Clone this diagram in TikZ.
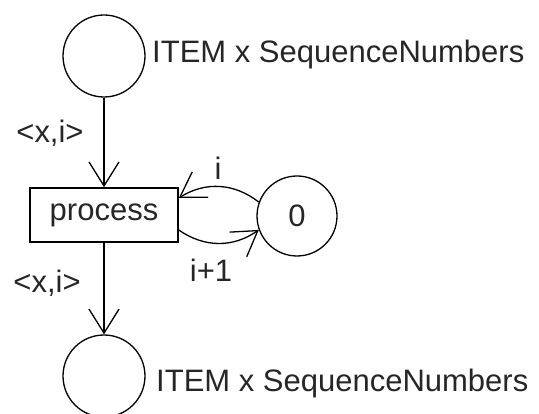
\documentclass[tikz,border=0pt]{standalone}
\usepackage{fontspec}
\setmainfont{Liberation Sans}
\usetikzlibrary{arrows.meta,positioning}
\begin{document}
\begin{tikzpicture}[x=1pt,y=-1pt,
  place/.style={circle,draw,line width=1.3pt,minimum size=82pt,inner sep=0pt},
  trans/.style={rectangle,draw,line width=1.6pt,minimum width=148pt,minimum height=54pt,inner sep=0pt},
  arc/.style={line width=1.3pt,-{Straight Barb[length=24pt,width=30pt,line width=1.3pt]}},
  lab/.style={font=\fontsize{31}{31}\selectfont,text=black!85,inner sep=0pt}]
\clip (0,0) rectangle (539,414);
\node[place] (top) at (104,56) {};
\node[trans] (p) at (104,215) {};
\node[lab] (ptext) at (104,215) {process};
\node[place,minimum size=80pt] (z) at (297,216) {};
\node[lab] (ztext) at (297,216) {0};
\node[place] (bot) at (104,376) {};
\node[lab,anchor=west] (ltop) at (152,54) {ITEM x SequenceNumbers};
\node[lab,anchor=west] (lbot) at (156,383) {ITEM x SequenceNumbers};
\draw[arc] (top) -- (p);
\draw[arc] (p) -- (bot);
\draw[arc] (z.160) to[bend right=35] ([yshift=17pt]p.east);
\draw[arc] ([yshift=-15pt]p.east) to[bend right=35] (z.200);
\node[lab] (l1) at (50,133) {<x,i>};
\node[lab] (l2) at (47,283) {<x,i>};
\node[lab] (l3) at (218,168) {i};
\node[lab] (l4) at (211,270) {i+1};
\end{tikzpicture}
\end{document}
